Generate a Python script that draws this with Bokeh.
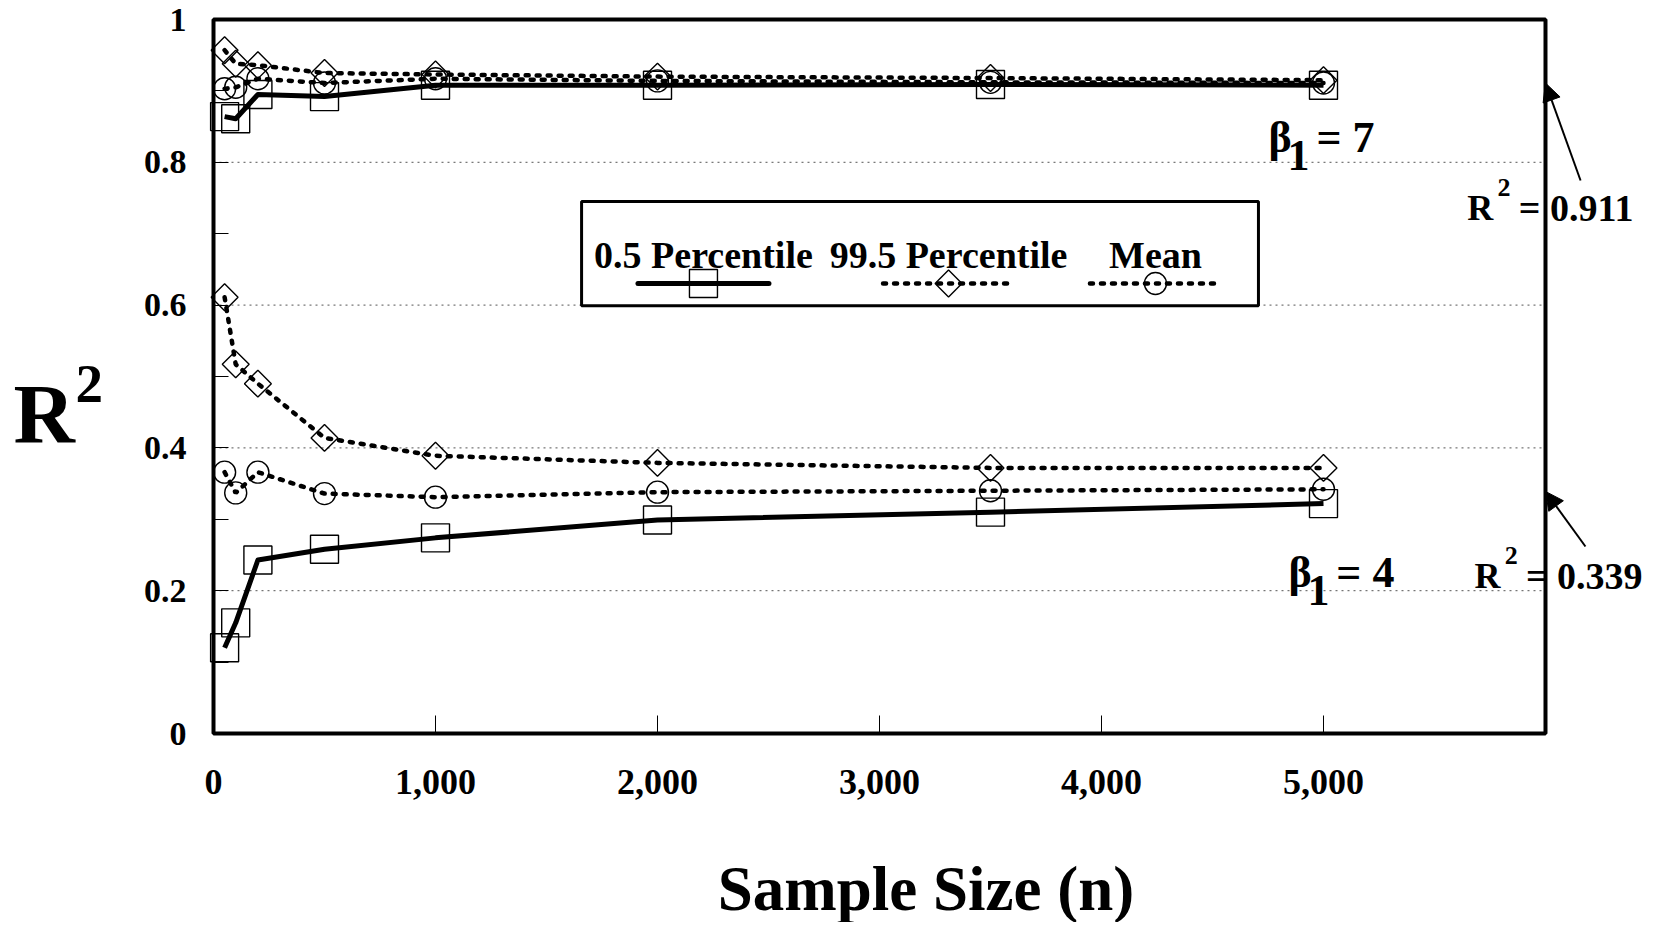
import numpy as np
from bokeh.plotting import figure
from bokeh.models import (FixedTicker, NumeralTickFormatter, Label, Arrow,
                          NormalHead, BoxAnnotation)
from bokeh.embed import file_html
from bokeh.resources import INLINE

# ---------------- data ----------------
sample_size = [50, 100, 200, 500, 1000, 2000, 3500, 5000]

# beta1 = 7
b7_p005 = [0.864, 0.861, 0.895, 0.892, 0.908, 0.908, 0.909, 0.908]
b7_p995 = [0.957, 0.938, 0.936, 0.925, 0.923, 0.920, 0.918, 0.915]
b7_mean = [0.903, 0.905, 0.917, 0.911, 0.917, 0.914, 0.912, 0.911]

# beta1 = 4
b4_p005 = [0.120, 0.155, 0.243, 0.258, 0.274, 0.299, 0.310, 0.322]
b4_p995 = [0.611, 0.517, 0.490, 0.414, 0.389, 0.379, 0.372, 0.372]
b4_mean = [0.366, 0.337, 0.366, 0.336, 0.331, 0.338, 0.340, 0.342]

series_names = ["0.5 Percentile", "99.5 Percentile", "Mean"]
x_ticks = [0, 1000, 2000, 3000, 4000, 5000]
y_ticks = [0, 0.2, 0.4, 0.6, 0.8, 1]
y_tick_labels = ["0", "0.2", "0.4", "0.6", "0.8", "1"]
y_minor_ticks = [0.1, 0.3, 0.5, 0.7, 0.9]
r2_values = [0.911, 0.339]
beta_values = [7, 4]

# data domain of the boxed plot area
X_MIN, X_MAX = 0, 6000
Y_MIN, Y_MAX = 0, 1

FONT = "Liberation Serif"
W, H = 1650, 922
PX_PER_Y = 714.0          # pixels per unit of R^2

# ---------------- figure ----------------
# the frame covers the whole canvas; the boxed plot area is drawn inside it,
# and the axes are pinned to x=0 / y=0 so the outside texts are not clipped
p = figure(width=W, height=H, x_range=(-959.5, 6473), y_range=(-0.2647, 1.0266),
           output_backend="svg", toolbar_location=None,
           min_border=0, min_border_left=0, min_border_right=0,
           min_border_top=0, min_border_bottom=0)
p.background_fill_color = "white"
p.border_fill_color = "white"
p.outline_line_color = None
p.xgrid.grid_line_color = None
p.ygrid.grid_line_color = None

# x axis
xa = p.xaxis[0]
xa.fixed_location = Y_MIN
xa.bounds = (X_MIN, 6420)      # centres the axis title like the reference
xa.ticker = FixedTicker(ticks=x_ticks)
xa.formatter = NumeralTickFormatter(format="0,0")
xa.axis_line_color = None
xa.major_tick_in = 18
xa.major_tick_out = 0
xa.major_tick_line_width = 1
xa.minor_tick_in = 0
xa.minor_tick_out = 0
xa.major_label_text_font = FONT
xa.major_label_text_font_style = "bold"
xa.major_label_text_font_size = "36px"
xa.major_label_text_color = "black"
xa.major_label_standoff = 36
xa.axis_label = "Sample Size (n)"
xa.axis_label_text_font = FONT
xa.axis_label_text_font_style = "bold"
xa.axis_label_text_font_size = "63px"
xa.axis_label_text_color = "black"
xa.axis_label_standoff = 57

# y axis
ya = p.yaxis[0]
ya.fixed_location = X_MIN
ya.ticker = FixedTicker(ticks=y_ticks, minor_ticks=y_minor_ticks)
ya.major_label_overrides = {t: l for t, l in zip(y_ticks, y_tick_labels)}
ya.axis_line_color = None
ya.major_tick_in = 15
ya.major_tick_out = 0
ya.minor_tick_in = 15
ya.minor_tick_out = 0
ya.minor_tick_line_color = "black"
ya.major_label_text_font = FONT
ya.major_label_text_font_style = "bold"
ya.major_label_text_font_size = "34px"
ya.major_label_text_color = "black"
ya.major_label_standoff = 27

# dotted horizontal grid lines inside the box
grid_y = y_ticks[1:-1]
p.segment(x0=[X_MIN] * len(grid_y), x1=[X_MAX] * len(grid_y), y0=grid_y, y1=grid_y,
          line_color="#555555", line_dash="2 4", line_width=1, level="underlay")

# plot box
p.add_layout(BoxAnnotation(left=X_MIN, right=X_MAX, bottom=Y_MIN, top=Y_MAX,
                           fill_alpha=0.0, line_color="black", line_alpha=1.0,
                           line_width=4, level="annotation"))

# ---------------- series ----------------
DOT = "3 8"

def draw_group(p005, p995, mean):
    p.line(sample_size, p005, line_color="black", line_width=5, line_join="round")
    p.scatter(sample_size, p005, marker="square", size=28, fill_color=None,
              line_color="black", line_width=1.4)
    p.line(sample_size, p995, line_color="black", line_width=4.5, line_dash=DOT,
           line_cap="round")
    p.scatter(sample_size, p995, marker="square", angle=np.pi / 4, size=19,
              fill_color=None, line_color="black", line_width=1.4)
    p.line(sample_size, mean, line_color="black", line_width=4.5, line_dash=DOT,
           line_cap="round")
    p.scatter(sample_size, mean, marker="circle", size=22, fill_color=None,
              line_color="black", line_width=1.4)

draw_group(b7_p005, b7_p995, b7_mean)
draw_group(b4_p005, b4_p995, b4_mean)

# ---------------- labels helper ----------------
def lab(x, y_base, text, size, align="left"):
    # y_base is the text baseline; convert to the vertical middle of the text
    y_mid = y_base + 0.34 * size / PX_PER_Y
    p.add_layout(Label(x=x, y=y_mid, text=text, text_font=FONT,
                       text_font_style="bold", text_font_size=f"{size}px",
                       text_align=align, text_baseline="middle",
                       text_color="black"))

# ---------------- legend (label above sample) ----------------
leg_left, leg_right, leg_bottom, leg_top = 1658, 4707, 0.599, 0.745
leg_centers = [2207, 3311, 4243]
leg_half = 295
leg_sample_y = 0.6303
leg_text_y = 0.6527

p.add_layout(BoxAnnotation(left=leg_left, right=leg_right, bottom=leg_bottom,
                           top=leg_top, fill_color="white", fill_alpha=1.0,
                           line_color="black", line_alpha=1.0, line_width=3,
                           level="underlay"))
styles = [dict(line_dash="solid", line_width=5),
          dict(line_dash=DOT, line_width=4.5),
          dict(line_dash=DOT, line_width=4.5)]
markers = [("square", 0.0, 28), ("square", np.pi / 4, 19), ("circle", 0.0, 22)]
for name, cx, st, (mk, ang, sz) in zip(series_names, leg_centers, styles, markers):
    p.line([cx - leg_half, cx + leg_half], [leg_sample_y, leg_sample_y],
           line_color="black", line_cap="round", **st)
    p.scatter([cx], [leg_sample_y], marker=mk, angle=ang, size=sz,
              fill_color=None, line_color="black", line_width=1.4)
    lab(cx, leg_text_y, name, 38, align="center")

# ---------------- annotations ----------------
beta_pos = [(4752, 0.8137), (4842, 0.2045)]
for b, (bx, by) in zip(beta_values, beta_pos):
    lab(bx, by, "β", 44)
    lab(bx + 86, by - 0.0252, "1", 44)
    lab(bx + 216, by, f"= {b}", 44)

r2_pos = [(5648, 0.7185), (5680, 0.2031)]
arrow_tail = [(6158, 0.7745), (6180, 0.2619)]
for v, (rx, ry), (tx, ty) in zip(r2_values, r2_pos, arrow_tail):
    lab(rx, ry, "R", 36)
    lab(rx + 136, ry + 0.034, "2", 26)
    lab(rx + 232, ry, f"= {v:.3f}", 38)
    p.add_layout(Arrow(end=NormalHead(size=18, fill_color="black",
                                      line_color="black"),
                       x_start=tx, y_start=ty, x_end=X_MAX, y_end=v,
                       line_color="black", line_width=2))

# y-axis title "R²"
lab(-901, 0.4076, "R", 85)
lab(-622, 0.4636, "2", 55)

open("out.html", "w").write(file_html(p, INLINE))
